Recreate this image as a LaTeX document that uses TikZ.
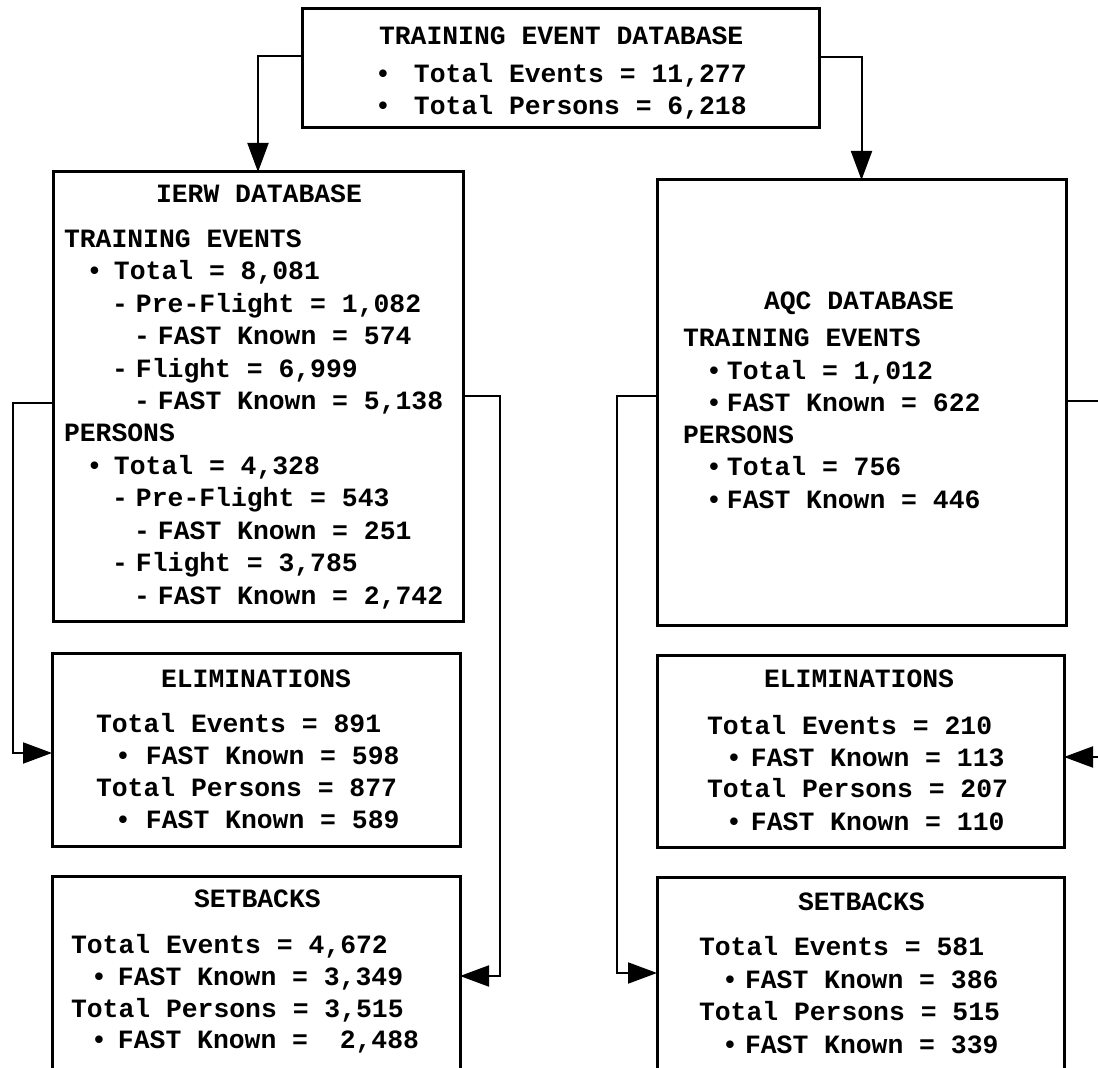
\documentclass[tikz,border=0pt]{standalone}
\usepackage{fontspec}
\setmonofont{Liberation Mono}
\usetikzlibrary{arrows.meta,calc}
\newcommand{\mk}[2]{\llap{\makebox[#1][c]{#2}}}
\newcommand{\bu}[1]{\mk{#1}{•}}
\newcommand{\da}{\mk{16pt}{-}}
\tikzset{
  boxnode/.style={draw, line width=1.5pt, rectangle, inner sep=0pt, outer sep=0pt},
  txt/.style={anchor=base west, inner sep=0pt, outer sep=0pt,
    font=\ttfamily\bfseries\fontsize{13.2}{16}\selectfont},
  conn/.style={line width=1pt, -{Triangle[length=14.5pt,width=10.5pt]}},
}
\begin{document}
\begin{tikzpicture}[x=0.5pt,y=-0.5pt]
\useasboundingbox (0,0) rectangle (1098,1068);
\clip (0,0) rectangle (1098,1068);
\fill[white] (0,0) rectangle (1098,1068);

% boxes
\node[boxnode, minimum width=258.5pt, minimum height=59.5pt] (top) at (560.5,68.5) {};
\node[boxnode, minimum width=205pt, minimum height=225pt] (ierw) at (258,397) {};
\node[boxnode, minimum width=204.5pt, minimum height=223pt] (aqc) at (861.5,403) {};
\node[boxnode, minimum width=204pt, minimum height=96.5pt] (lelim) at (256,750.5) {};
\node[boxnode, minimum width=204pt, minimum height=111.5pt] (lset) at (256,988.5) {};
\node[boxnode, minimum width=203.5pt, minimum height=96pt] (relim) at (860.5,752) {};
\node[boxnode, minimum width=203.5pt, minimum height=111pt] (rset) at (860.5,989) {};

% connectors
\draw[conn] ($(top.north west)+(0,47)$) -| (ierw.north);
\draw[conn] ($(top.north east)+(0,48)$) -| (aqc.north);
\draw[conn] ($(ierw.north west)+(0,231)$) -- ++(-40,0) |- ($(lelim.north west)+(0,99)$);
\draw[conn] ($(ierw.north east)+(0,224)$) -- ++(37,0) |- ($(lset.north east)+(0,99)$);
\draw[conn] ($(aqc.north west)+(0,216)$) -- ++(-40,0) |- ($(rset.north west)+(0,95)$);
\draw[conn] ($(aqc.north east)+(0,221)$) -- ++(64,0) |- ($(relim.north east)+(0,101)$);

% top box text
\node[txt] (t1) at (379,45) {TRAINING EVENT DATABASE};
\node[txt] (t2) at (414,83) {\bu{31pt}Total Events = 11,277};
\node[txt] (t3) at (414,115) {\bu{31pt}Total Persons = 6,218};

% IERW text
\node[txt] (i1) at (156,203) {IERW DATABASE};
\node[txt] (i2) at (64,248) {TRAINING EVENTS};
\node[txt] (i3) at (114,280) {\bu{19.5pt}Total = 8,081};
\node[txt] (i4) at (136,313) {\da Pre-Flight = 1,082};
\node[txt] (i5) at (158,345) {\da FAST Known = 574};
\node[txt] (i6) at (136,378) {\da Flight = 6,999};
\node[txt] (i7) at (158,410) {\da FAST Known = 5,138};
\node[txt] (i8) at (64,442) {PERSONS};
\node[txt] (i9) at (114,475) {\bu{19.5pt}Total = 4,328};
\node[txt] (i10) at (136,507) {\da Pre-Flight = 543};
\node[txt] (i11) at (158,540) {\da FAST Known = 251};
\node[txt] (i12) at (136,572) {\da Flight = 3,785};
\node[txt] (i13) at (158,605) {\da FAST Known = 2,742};

% AQC text
\node[txt] (a1) at (764,310) {AQC DATABASE};
\node[txt] (a2) at (683,347) {TRAINING EVENTS};
\node[txt] (a3) at (727,380) {\bu{13pt}Total = 1,012};
\node[txt] (a4) at (727,412) {\bu{13pt}FAST Known = 622};
\node[txt] (a5) at (683,444) {PERSONS};
\node[txt] (a6) at (727,476) {\bu{13pt}Total = 756};
\node[txt] (a7) at (727,509) {\bu{13pt}FAST Known = 446};

% left eliminations
\node[txt] (e1) at (161,688) {ELIMINATIONS};
\node[txt] (e2) at (96,733) {Total Events = 891};
\node[txt] (e3) at (146,765) {\bu{23pt}FAST Known = 598};
\node[txt] (e4) at (96,797) {Total Persons = 877};
\node[txt] (e5) at (146,829) {\bu{23pt}FAST Known = 589};

% left setbacks
\node[txt] (s1) at (194,907) {SETBACKS};
\node[txt] (s2) at (71,953) {Total Events = 4,672};
\node[txt] (s3) at (118,985) {\bu{19pt}FAST Known = 3,349};
\node[txt] (s4) at (71,1017) {Total Persons = 3,515};
\node[txt] (s5) at (118,1048) {\bu{19pt}FAST Known =\ \ 2,488};

% right eliminations
\node[txt] (r1) at (764,688) {ELIMINATIONS};
\node[txt] (r2) at (707,735) {Total Events = 210};
\node[txt] (r3) at (751,767) {\bu{17pt}FAST Known = 113};
\node[txt] (r4) at (707,798) {Total Persons = 207};
\node[txt] (r5) at (751,831) {\bu{17pt}FAST Known = 110};

% right setbacks
\node[txt] (q1) at (798,911) {SETBACKS};
\node[txt] (q2) at (699,956) {Total Events = 581};
\node[txt] (q3) at (745,988) {\bu{15pt}FAST Known = 386};
\node[txt] (q4) at (699,1020) {Total Persons = 515};
\node[txt] (q5) at (745,1053) {\bu{15pt}FAST Known = 339};
\end{tikzpicture}
\end{document}
